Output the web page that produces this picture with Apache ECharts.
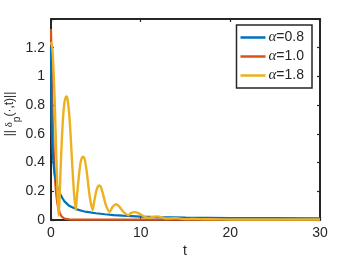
<!DOCTYPE html>
<html><head><meta charset="utf-8">
<script src="https://cdn.jsdelivr.net/npm/echarts@6/dist/echarts.min.js"></script>
<style>html,body{margin:0;padding:0;background:#fff}#c{width:353px;height:260px}</style>
</head><body><div id="c"></div>
<script>
const seriesNames = ['α=0.8', 'α=1.0', 'α=1.8'];
const colors = ['#0072BD', '#D95319', '#EDB120'];
const xTicks = [0, 10, 20, 30];
const yTicks = [0, 0.2, 0.4, 0.6, 0.8, 1, 1.2];

const tBlue = [0, 0.03, 0.06, 0.1, 0.15, 0.2, 0.3, 0.4, 0.55, 0.7, 0.85, 1.0, 1.25, 1.5, 2, 2.5, 3, 3.5, 4, 5, 6, 7, 8, 10, 12, 15, 20, 25, 30];
const yBlue = [1.21, 0.85, 0.7, 0.6, 0.52, 0.46, 0.38, 0.32, 0.27, 0.23, 0.205, 0.185, 0.155, 0.13, 0.1, 0.085, 0.072, 0.063, 0.056, 0.047, 0.04, 0.034, 0.03, 0.024, 0.02, 0.017, 0.014, 0.013, 0.012];

const tRed = [0, 0.05, 0.1, 0.2, 0.3, 0.4, 0.5, 0.6, 0.7, 0.8, 1.0, 1.2, 1.5, 2, 2.5, 3, 5, 10, 20, 30];
const yRed = [1.33, 1.12, 0.95, 0.67, 0.48, 0.34, 0.24, 0.17, 0.12, 0.088, 0.045, 0.023, 0.01, 0.004, 0.003, 0.002, 0.002, 0.002, 0.002, 0.002];

const tYellow = [0, 0.1, 0.2, 0.3, 0.4, 0.5, 0.6, 0.7, 0.8, 0.87, 0.95, 1.05, 1.2, 1.35, 1.5, 1.65, 1.75, 1.85, 2.0, 2.15, 2.3, 2.45, 2.6, 2.77,
  2.9, 3.1, 3.3, 3.5, 3.65, 3.8, 4.0, 4.2, 4.4, 4.65, 4.8, 5.0, 5.2, 5.4, 5.6, 5.8, 6.0, 6.2, 6.55, 6.8, 7.1, 7.3, 7.6, 7.9, 8.2, 8.65,
  8.9, 9.3, 9.7, 10.1, 10.6, 10.9, 11.4, 11.9, 12.4, 12.9, 13.5, 14, 14.6, 15.2, 16, 17, 18, 20, 22, 25, 30];
const yYellow = [1.24, 1.22, 1.15, 1.02, 0.85, 0.64, 0.43, 0.23, 0.08, 0.03, 0.14, 0.32, 0.55, 0.72, 0.82, 0.855, 0.86, 0.84, 0.76, 0.63, 0.46, 0.3, 0.16, 0.07,
  0.17, 0.3, 0.4, 0.44, 0.44, 0.41, 0.33, 0.22, 0.13, 0.07, 0.12, 0.19, 0.23, 0.24, 0.225, 0.18, 0.13, 0.09, 0.055, 0.085, 0.105, 0.11, 0.095, 0.07, 0.05, 0.033,
  0.048, 0.055, 0.05, 0.035, 0.018, 0.015, 0.022, 0.025, 0.018, 0.01, 0.012, 0.013, 0.008, 0.006, 0.007, 0.005, 0.005, 0.004, 0.004, 0.003, 0.003];

const zip = (t, y) => t.map((v, i) => [v, y[i]]);
const FONT = 'Liberation Sans';
const AX = '#262626';

const chart = echarts.init(document.getElementById('c'), null, {renderer: 'canvas'});
const axisCommon = {
  axisLine: {show: true, onZero: false, lineStyle: {color: AX, width: 2}},
  axisTick: {show: true, inside: true, length: 3, lineStyle: {color: AX, width: 1.2}},
  splitLine: {show: false}
};
chart.setOption({
  animation: false,
  textStyle: {fontFamily: FONT},
  grid: {left: 51, right: 33, top: 19, bottom: 40},
  xAxis: [
    Object.assign({type: 'value', min: 0, max: 30, interval: 10, position: 'bottom',
      axisLabel: {color: AX, fontSize: 14, fontFamily: FONT, margin: 6}}, axisCommon),
    Object.assign({type: 'value', min: 0, max: 30, interval: 10, position: 'top',
      axisLabel: {show: false}}, axisCommon)
  ],
  yAxis: [
    Object.assign({type: 'value', min: 0, max: 1.4, interval: 0.2, position: 'left',
      axisLabel: {color: AX, fontSize: 14, fontFamily: FONT, margin: 6,
        formatter: v => yTicks.some(t => Math.abs(t - v) < 1e-6) ? String(Math.round(v * 10) / 10) : ''}}, axisCommon),
    Object.assign({type: 'value', min: 0, max: 1.4, interval: 0.2, position: 'right',
      axisLabel: {show: false}}, axisCommon)
  ],
  legend: {
    orient: 'vertical', right: 41, top: 25,
    backgroundColor: '#fff', borderColor: AX, borderWidth: 1.5, borderRadius: 0,
    padding: [5, 8, 5, 4], itemGap: 4, itemWidth: 25, itemHeight: 2.5, icon: 'rect',
    data: seriesNames,
    formatter: n => '{a|α}{b|' + n.slice(1) + '}',
    textStyle: {color: AX, padding: [0, 0, 0, -2],
      rich: {a: {fontFamily: 'Liberation Serif', fontStyle: 'italic', fontSize: 15, color: AX},
             b: {fontFamily: FONT, fontSize: 14, color: AX}}}
  },
  graphic: [
    {type: 'text', x: 185, y: 251, style: {text: 't', font: '14px "Liberation Sans"', fill: AX, align: 'center', verticalAlign: 'middle'}},
    {type: 'text', x: 13, y: 114, rotation: Math.PI / 2,
      style: {text: '{n|||}{d| δ}{s|p}{n|(·,t)||}', align: 'center', verticalAlign: 'middle', fill: AX,
        rich: {
          n: {fontFamily: FONT, fontSize: 12, lineHeight: 14, verticalAlign: 'top', fill: AX},
          d: {fontFamily: 'Liberation Serif', fontSize: 11, lineHeight: 14, verticalAlign: 'top', fill: AX},
          s: {fontFamily: FONT, fontSize: 10, lineHeight: 19, verticalAlign: 'bottom', fill: AX}
        }}}
  ],
  series: [
    {name: seriesNames[0], type: 'line', data: zip(tBlue, yBlue), showSymbol: false, color: colors[0], lineStyle: {width: 2.2}, z: 3},
    {name: seriesNames[1], type: 'line', data: zip(tRed, yRed), showSymbol: false, color: colors[1], lineStyle: {width: 2.2}, z: 2},
    {name: seriesNames[2], type: 'line', data: zip(tYellow, yYellow), showSymbol: false, color: colors[2], lineStyle: {width: 2.4}, z: 4, smooth: 0.2}
  ]
});
</script></body></html>
